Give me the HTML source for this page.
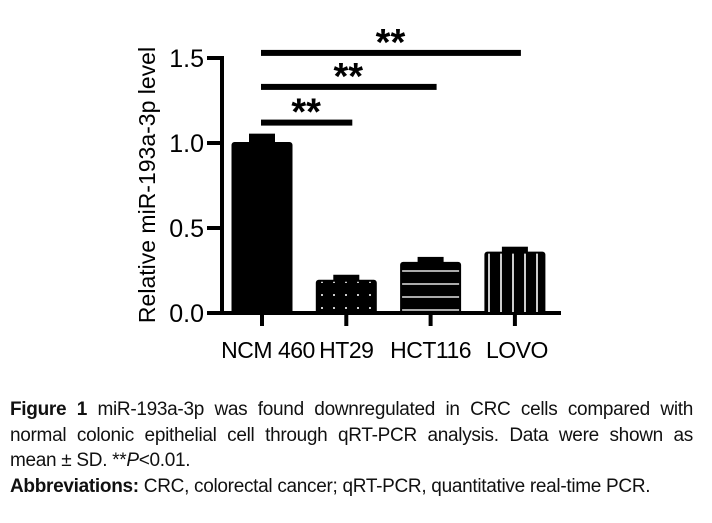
<!DOCTYPE html>
<html><head><meta charset="utf-8"><style>
body{margin:0;background:#fff;width:712px;height:523px;overflow:hidden;position:relative;font-family:"Liberation Sans",sans-serif}
#cap{position:absolute;left:10px;top:397px;width:683px;font-size:19px;line-height:25.5px;color:#111;letter-spacing:-0.3px}
#cap div{white-space:nowrap}
#cap .j{text-align:justify;text-align-last:justify;white-space:normal}
</style></head><body>
<svg width="712" height="390" style="position:absolute;left:0;top:0" id="chart" font-family="Liberation Sans, sans-serif">
<defs>
<pattern id="dots" width="12" height="13" patternUnits="userSpaceOnUse" x="4" y="3"><rect width="12" height="13" fill="#000"/><rect x="5" y="5" width="2" height="2" fill="#ccc"/></pattern>
<pattern id="hlines" width="20" height="13" patternUnits="userSpaceOnUse" y="5"><rect width="20" height="13" fill="#000"/><rect y="5" width="20" height="2" fill="#aaa"/></pattern>
<pattern id="vlines" width="12" height="20" patternUnits="userSpaceOnUse" x="3"><rect width="12" height="20" fill="#000"/><rect x="5" width="2" height="20" fill="#ccc"/></pattern>
</defs>
<g id="g"></g>
</svg>
<div id="cap">
<div class="j"><b>Figure 1</b> miR-193a-3p was found downregulated in CRC cells compared with</div>
<div class="j">normal colonic epithelial cell through qRT-PCR analysis. Data were shown as</div>
<div>mean ± SD. **<i>P</i>&lt;0.01.</div>
<div><b>Abbreviations:</b> CRC, colorectal cancer; qRT-PCR, quantitative real-time PCR.</div>
</div>
<script>
const categories=["NCM 460","HT29","HCT116","LOVO"];
const values=[1.0,0.19,0.295,0.355];
const errors=[0.055,0.035,0.035,0.035];
const yTicks=[0,0.5,1.0,1.5];
const yTickLabels=["0.0","0.5","1.0","1.5"];
const fills=["#000","url(#dots)","url(#hlines)","url(#vlines)"];
const sigPairs=[[0,1,1.12],[0,2,1.33],[0,3,1.53]];
const NS="http://www.w3.org/2000/svg";
const g=document.getElementById('g');
const y=v=>313-v*170;
const x=i=>262+i*84.3;
function mk(t,a,txt){const e=document.createElementNS(NS,t);for(const k in a)e.setAttribute(k,a[k]);if(txt!==undefined)e.textContent=txt;g.appendChild(e);return e;}
let e=mk('line',{x1:222,y1:y(1.5)-2,x2:222,y2:315,stroke:'#000','stroke-width':4});

e=mk('line',{x1:220,y1:313,x2:561,y2:313,stroke:'#000','stroke-width':4});

yTicks.forEach((t,i)=>{
 let l=mk('line',{x1:207,y1:y(t),x2:222,y2:y(t),stroke:'#000','stroke-width':4});
 
 let tx=mk('text',{x:204,y:y(t)+9,'text-anchor':'end','font-size':25},yTickLabels[i]);
 
});
e=mk('text',{transform:'translate(155,185) rotate(-90)','text-anchor':'middle','font-size':23},'Relative miR-193a-3p level');

categories.forEach((c,i)=>{
 let cx=x(i);
 let l=mk('line',{x1:cx,y1:313,x2:cx,y2:326,stroke:'#000','stroke-width':4});
 
 let tx=mk('text',{x:cx+(i==0?6:i==3?2:0),y:358,'text-anchor':'middle','font-size':23,'letter-spacing':-0.5},c);
 
 let eb=mk('rect',{x:cx-13,y:y(values[i]+errors[i]),width:26,height:y(values[i])-y(values[i]+errors[i])+3,fill:'#000'});
 
 let b=mk('rect',{x:cx-29.5,y:y(values[i]),width:59,height:313-y(values[i]),fill:fills[i],stroke:'#000','stroke-width':2,rx:2});
 
});
sigPairs.forEach(p=>{
 let yy=y(p[2]);
 let l=mk('rect',{x:x(p[0])-1,y:yy-3,width:x(p[1])-x(p[0])+7,height:6,fill:'#000'});
 
 let s=mk('text',{x:(x(p[0])+x(p[1]))/2+2,y:yy+2,'text-anchor':'middle','font-size':38,'font-weight':'bold'},'**');
 
});
</script>
</body></html>
